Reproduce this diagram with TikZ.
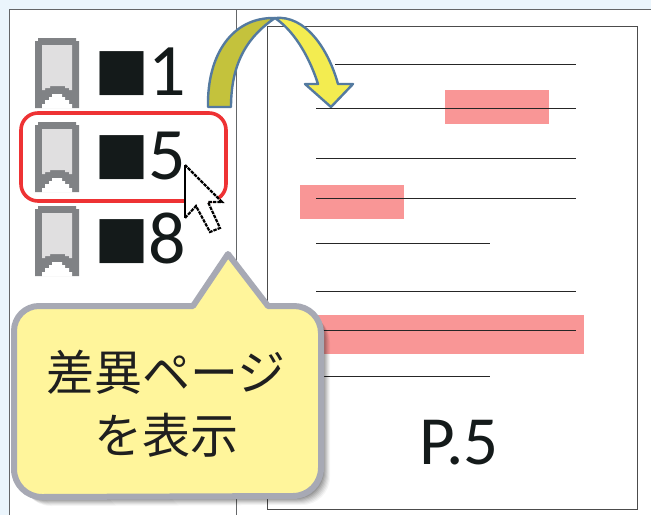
\documentclass[tikz,border=0pt]{standalone}
\usepackage{fontspec}
\setmainfont{Carlito}
\newfontfamily\cjk{Noto Sans CJK JP}
\usepackage{xcolor}
\definecolor{panelblue}{RGB}{235,245,252}
\definecolor{framegray}{RGB}{100,102,104}
\definecolor{markgray}{RGB}{128,130,133}
\definecolor{marklight}{RGB}{224,223,224}
\definecolor{inkdark}{RGB}{20,26,26}
\definecolor{diffpink}{RGB}{249,150,150}
\definecolor{selectred}{RGB}{238,50,52}
\definecolor{arrowedge}{RGB}{84,122,160}
\definecolor{arrowolive}{RGB}{196,194,60}
\definecolor{arrowyellow}{RGB}{243,236,80}
\definecolor{calloutfill}{RGB}{255,245,155}
\definecolor{calloutedge}{RGB}{167,169,180}
\tikzset{
  textline/.style={draw=black!85, line width=1pt},
  diffband/.style={fill=diffpink},
  rowtext/.style={font=\fontsize{74}{74}\selectfont, text=inkdark, anchor=base, inner sep=0pt},
  rowmark/.style={font=\cjk\fontsize{55}{55}\selectfont, text=inkdark, inner sep=0pt},
  calltext/.style={font=\cjk\fontsize{48}{48}\selectfont, text=black!88, inner sep=0pt},
}
\newcommand{\calloutshape}{(14,331) arc (180:270:25) -- (193,306) -- (228,254) -- (268,306) -- (294,306) arc (270:360:27) -- (321,468) arc (0:90:28) -- (42,497) arc (90:180:28) -- cycle}

\begin{document}
\begin{tikzpicture}[x=1pt, y=-1pt, line cap=butt]
\useasboundingbox (0,0) rectangle (651,515);

% Window background
\fill[panelblue] (0,0) rectangle (651,515);
\fill[white] (9,9) rectangle (651,515);
\draw[framegray, line width=1pt] (9,515) -- (9,9) -- (651,9);
\draw[framegray, line width=1pt] (236,9) -- (236,515);

% Page
\draw[black!70, line width=0.9pt] (267,26) rectangle (637,509);
\fill[diffband] (445,90) rectangle (549,124);
\fill[diffband] (300,185) rectangle (404,219);
\fill[diffband] (300,315) rectangle (584,354);
\draw[textline] (335,64) -- (576,64);
\foreach \y in {108,158,198,291,330} {
    \draw[textline] (316,\y) -- (576,\y);
}
\foreach \y in {243,376} {
    \draw[textline] (316,\y) -- (490,\y);
}
\node[font=\fontsize{69}{69}\selectfont, text=inkdark, inner sep=0pt] (pagelabel) at (459,443) {P.5};

% Bookmark rows
\foreach \y/\num in {0/1,84/5,168/8} {
    \begin{scope}[yshift=-\y pt]
    \fill[markgray] (38,38) -- (76,38) -- (76,41) -- (79,41) -- (79,108) -- (42,108) -- (35,108) -- (35,41) -- (38,41) -- cycle;
    \fill[marklight] (42,45) -- (72,45) -- (72,90) -- (69,90) -- (69,88) -- (65,88) -- (65,86) -- (50,86) -- (50,88) -- (45,88) -- (45,90) -- (42,90) -- cycle;
    \fill[white] (52,94) -- (62,94) -- (62,97) -- (65,97) -- (65,100) -- (69,100) -- (69,104) -- (72,104) -- (72,108.5) -- (42,108.5) -- (42,104) -- (45,104) -- (45,100) -- (49,100) -- (49,97) -- (52,97) -- cycle;
    \node[rowmark] (mark\num) at (122,74) {■};
    \node[rowtext] (num\num) at (167,95) {\num};
    \end{scope}
}

% Selected row
\draw[selectred, line width=3.6pt, rounded corners=17pt] (21,113) rectangle (226,201);

% Mouse pointer
\fill[white] (185,165) -- (185,218) -- (196,206) -- (210,232) -- (220,228) -- (208,202) -- (222,202) -- cycle;
\draw[black, line width=2.2pt] (185,165) -- (185,218);
\draw[black, line width=2.2pt, dash pattern=on 3.5pt off 1pt] (185,218) -- (196,206) -- (210,232) -- (220,228) -- (208,202) -- (222,202) -- (185,165);

% Curved arrow
\draw[arrowedge, line width=2.4pt, fill=arrowolive, line join=round] (208,107) .. controls (207,55) and (232,17) .. (275,18) .. controls (250,35) and (231,60) .. (231,107) -- cycle;
\draw[arrowedge, line width=2.4pt, fill=arrowyellow, line join=round] (275,18) .. controls (305,15) and (328,48) .. (338,84) -- (353,84) -- (331,107) -- (305,84) -- (318,84) .. controls (311,62) and (297,33) .. (275,18) -- cycle;

% Callout with soft shadow
\foreach \d/\op in {11/0.04,10/0.05,9/0.06,8/0.07,7/0.08,6/0.09,5/0.10,4/0.11} {
    \fill[black, opacity=\op, shift={(\d-2,\d-2)}] \calloutshape;
}
\draw[calloutedge, line width=6pt, fill=calloutfill, line join=round] \calloutshape;
\node[calltext] (calltop) at (166,372) {差異ページ};
\node[calltext] (callbottom) at (166,435) {を表示};

\end{tikzpicture}
\end{document}
